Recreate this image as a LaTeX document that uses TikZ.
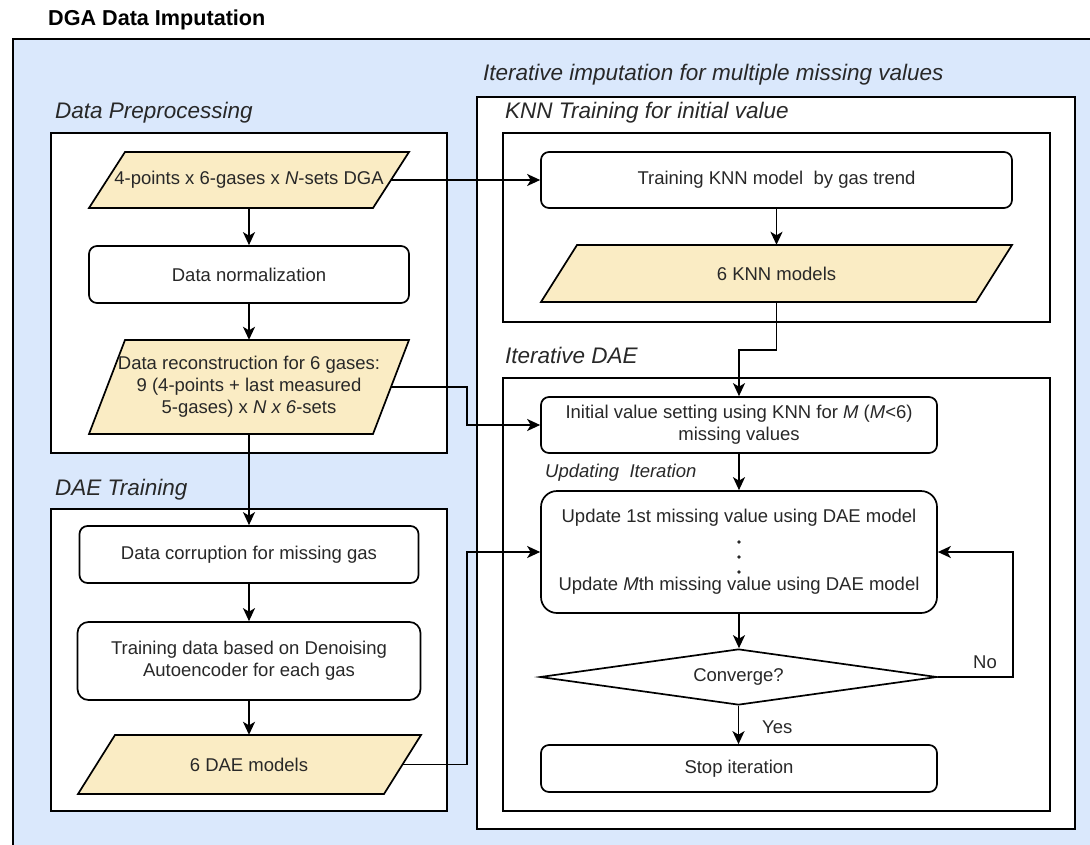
\documentclass[tikz,border=0pt]{standalone}
\usepackage{fontspec}
\setmainfont{Liberation Sans}
\usetikzlibrary{shapes.geometric,arrows.meta}
\definecolor{bluebg}{RGB}{218,232,252}
\definecolor{yel}{RGB}{250,236,196}
\definecolor{txtc}{RGB}{40,40,40}
\begin{document}
\begin{tikzpicture}[x=1pt,y=-1pt,
  lw/.style={line width=1.7pt},
  txt/.style={font=\fontsize{18.5}{22}\selectfont, text=txtc, align=center, inner sep=0pt},
  box/.style={txt, draw=black, lw, fill=white, rounded corners=8pt},
  para/.style={txt},
  arr/.style={lw, -{Stealth[length=13pt,width=12pt,inset=3.5pt]}},
  sec/.style={font=\fontsize{22.5}{26}\selectfont\itshape, text=txtc, anchor=west, inner sep=0pt},
  cont/.style={draw=black, lw, fill=white},
  pshape/.style={draw=black, lw, fill=yel, line join=miter},
  dotmark/.style={fill=txtc}
]
\useasboundingbox (0,0) rectangle (1090,844);
\clip (0,0) rectangle (1090,844);
\fill[white] (0,0) rectangle (1090,844);

% title
\node[font=\fontsize{21.6}{26}\selectfont\bfseries, anchor=west, inner sep=0pt] (title) at (48,20) {DGA Data Imputation};

% outer blue container
\draw[lw, fill=bluebg] (13,39) rectangle (1110,870);

% containers
\draw[cont] (51,133) rectangle (447,453);
\draw[cont] (51,509) rectangle (447,811);
\draw[cont] (477,97) rectangle (1075,829);
\draw[cont] (503,133) rectangle (1050,322);
\draw[cont] (503,378) rectangle (1050,811);

% section labels
\node[sec] (lblpre) at (55,113) {Data Preprocessing};
\node[sec] (lbldae) at (55,490) {DAE Training};
\node[sec] (lbliter) at (483,75) {Iterative imputation for multiple missing values};
\node[sec] (lblknn) at (505,113) {KNN Training for initial value};
\node[sec] (lblidae) at (505,355) {Iterative DAE};

% parallelogram shapes
\filldraw[pshape] (125,152) -- (409,152) -- (373,208) -- (89,208) -- cycle;
\filldraw[pshape] (125,340) -- (409,340) -- (373,434) -- (89,434) -- cycle;
\filldraw[pshape] (115,735) -- (421,735) -- (384,794) -- (78,794) -- cycle;
\filldraw[pshape] (577,245) -- (1012,245) -- (976,302) -- (541,302) -- cycle;

% left column nodes
\node[para, minimum width=284pt, minimum height=56pt] (input) at (249,180)
  {4-points x 6-gases x \textit{N}-sets DGA};
\node[box, minimum width=320pt, minimum height=57pt] (norm) at (249,274.5) {Data normalization};
\node[para, minimum width=284pt, minimum height=94pt] (recon) at (249,387)
  {Data reconstruction for 6 gases:\\9 (4-points + last measured\\5-gases) x \textit{N x 6}-sets};
\node[box, minimum width=339pt, minimum height=57pt] (corrupt) at (249,554.5) {Data corruption for missing gas};
\node[box, rounded corners=11pt, minimum width=343pt, minimum height=78pt] (train) at (249,661)
  {Training data based on Denoising\\Autoencoder for each gas};
\node[para, minimum width=306pt, minimum height=59pt] (daemod) at (249,764.5) {6 DAE models};

% right column nodes
\node[box, minimum width=471pt, minimum height=56pt] (knntrain) at (776.5,180) {Training KNN model\ \ by gas trend};
\node[para, minimum width=435pt, minimum height=57pt] (knnmod) at (776.5,273.5) {6 KNN models};
\node[box, minimum width=396pt, minimum height=56pt] (init) at (739,425)
  {Initial value setting using KNN for \textit{M} (\textit{M}<6)\\missing values};
\node[txt, font=\fontsize{18.5}{22}\selectfont\itshape, anchor=west] (updlbl) at (545,473) {Updating\ \ Iteration};
\node[box, rounded corners=16pt, minimum width=396pt, minimum height=122pt] (update) at (739,552)
  {Update 1st missing value using DAE model\\[46pt]Update \textit{M}th missing value using DAE model};
\fill[dotmark] (739,542) circle (1.8pt);
\fill[dotmark] (739,557) circle (1.8pt);
\fill[dotmark] (739,572) circle (1.8pt);
\node[txt, diamond, draw=black, lw, fill=white, aspect=7, minimum width=397pt, minimum height=56pt] (conv) at (738.5,677) {Converge?};
\node[box, minimum width=396pt, minimum height=47pt] (stop) at (739,768.5) {Stop iteration};
\node[txt, anchor=west] (yes) at (762,727) {Yes};
\node[txt] (no) at (985,662) {No};

% junction coordinates
\coordinate (jl) at (467,0);
\coordinate (jr) at (1013,0);

% connectors
\draw[arr] (input) -- (norm);
\draw[arr] (norm) -- (recon);
\draw[arr] (recon) -- (corrupt);
\draw[arr] (corrupt) -- (train);
\draw[arr] (train) -- (daemod);
\draw[arr] (input.east) -- (knntrain.west);
\draw[arr] (knntrain) -- (knnmod);
\draw[arr] (knnmod.south) -- ++(0,48) -| (init.north);
\draw[arr] (recon.east) -| (jl |- init.west) -- (init.west);
\draw[arr] (daemod.east) -| (jl |- update.west) -- (update.west);
\draw[arr] (init) -- (update);
\draw[arr] (update.south) -- (update.south |- conv.north);
\draw[arr] (conv.south) -- (conv.south |- stop.north);
\draw[arr] (conv.east) -| (jr |- update.east) -- (update.east);
\end{tikzpicture}
\end{document}
